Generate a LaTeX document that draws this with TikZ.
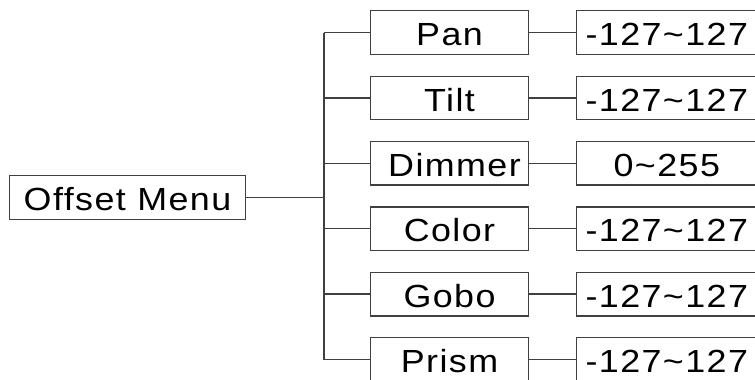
\documentclass[tikz,border=0pt]{standalone}
\usepackage{fontspec}
\setmainfont{Liberation Sans}[LetterSpace=4.5,FakeStretch=1.12]
\begin{document}
\begin{tikzpicture}[x=1pt,y=-1pt,
  line width=1.3pt,
  every node/.style={font=\fontsize{32}{32}\selectfont, text=black, inner sep=0pt, text height=26.2pt, text depth=0pt},
  box/.style={draw=black!75, minimum height=43.5pt},
  mainbox/.style={box, minimum width=236pt},
  midbox/.style={box, minimum width=157.6pt},
  valbox/.style={box, minimum width=180.2pt},
  conn/.style={draw=black!75}]
\useasboundingbox (0,0) rectangle (755,380);
\clip (0,0) rectangle (755,380);
\node[mainbox] (off) at (127.5,197.5) {Offset Menu};
\coordinate (ttop) at (324,32.5);
\coordinate (tbot) at (324,359.5);
\node[midbox] (pan) at (449.5,32.5) {Pan};
\node[midbox] (tilt) at (449.5,97.9) {Tilt};
\node[midbox] (dim) at (449.5,163.3) {\hspace*{10pt}Dimmer};
\node[midbox] (col) at (449.5,228.7) {Color};
\node[midbox] (gob) at (449.5,294.1) {Gobo};
\node[midbox] (pri) at (449.5,359.5) {Prism};
\node[valbox] (vpan) at (666.8,32.5) {-127\textasciitilde127};
\node[valbox] (vtilt) at (666.8,97.9) {-127\textasciitilde127};
\node[valbox] (vdim) at (666.8,163.3) {0\textasciitilde255};
\node[valbox] (vcol) at (666.8,228.7) {-127\textasciitilde127};
\node[valbox] (vgob) at (666.8,294.1) {-127\textasciitilde127};
\node[valbox] (vpri) at (666.8,359.5) {-127\textasciitilde127};
\draw[conn] (ttop) -- (tbot);
\draw[conn] (off.east) -- (off.east -| ttop);
\foreach \m/\v in {pan/vpan,tilt/vtilt,dim/vdim,col/vcol,gob/vgob,pri/vpri}{
  \draw[conn] (\m.west -| ttop) -- (\m.west);
  \draw[conn] (\m.east) -- (\v.west);
}
\end{tikzpicture}
\end{document}
